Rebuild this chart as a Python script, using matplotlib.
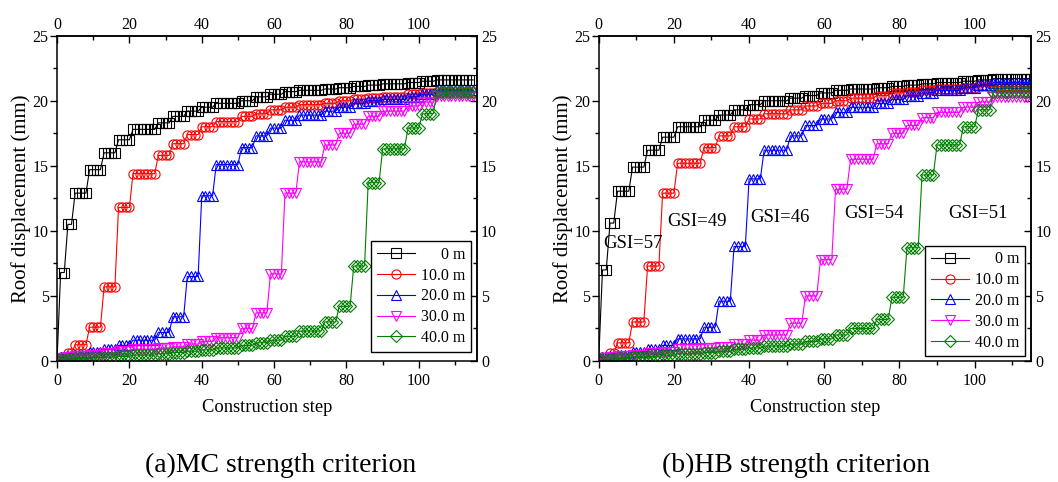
import numpy as np
import matplotlib.pyplot as plt

plt.rcParams["font.family"] = ["Liberation Serif", "DejaVu Serif"]

# construction steps 0..115, grouped into plateaus (one excavation round each)
plateau_len = [1, 2, 2, 4, 4, 4, 4, 7, 4, 4, 4, 4, 7, 4, 4, 4, 4, 7, 4, 4, 4, 4, 7, 4, 4, 11]
steps = np.arange(sum(plateau_len))

labels = ["     0 m", "10.0 m", "20.0 m", "30.0 m", "40.0 m"]
colors = ["black", "#ff0000", "#0000ff", "#ff00ff", "#008000"]
markers = ["s", "o", "^", "v", "D"]

# (a) Mohr-Coulomb, plateau levels (mm)
mc_0 = [0.0, 6.8, 10.5, 12.9, 14.7, 16.0, 17.0, 17.8, 18.3, 18.8, 19.2, 19.5, 19.8,
        20.0, 20.3, 20.5, 20.7, 20.8, 20.9, 21.0, 21.1, 21.2, 21.3, 21.4, 21.5, 21.6]
mc_10 = [0.2, 0.3, 0.6, 1.25, 2.6, 5.7, 11.8, 14.4, 15.8, 16.7, 17.4, 18.0, 18.4,
         18.8, 19.0, 19.3, 19.5, 19.7, 19.8, 20.0, 20.1, 20.2, 20.3, 20.5, 20.6, 20.7]
mc_20 = [0.2, 0.3, 0.4, 0.5, 0.7, 0.9, 1.2, 1.6, 2.2, 3.4, 6.5, 12.7, 15.1,
         16.4, 17.3, 17.9, 18.5, 18.9, 19.2, 19.5, 19.8, 20.0, 20.1, 20.3, 20.5, 20.8]
mc_30 = [0.1, 0.2, 0.3, 0.4, 0.5, 0.6, 0.75, 0.9, 1.0, 1.1, 1.3, 1.5, 1.8,
         2.5, 3.7, 6.7, 12.9, 15.3, 16.6, 17.5, 18.2, 18.8, 19.2, 19.6, 19.9, 20.4]
mc_40 = [0.1, 0.1, 0.15, 0.2, 0.25, 0.3, 0.35, 0.45, 0.55, 0.65, 0.75, 0.85, 1.0,
         1.2, 1.4, 1.6, 1.9, 2.3, 3.0, 4.2, 7.3, 13.7, 16.3, 17.9, 19.0, 20.7]

# (b) Hoek-Brown, plateau levels (mm)
hb_0 = [0.1, 7.0, 10.6, 13.05, 14.9, 16.2, 17.2, 18.0, 18.5, 18.9, 19.3, 19.7, 20.0,
        20.2, 20.4, 20.6, 20.8, 20.9, 21.0, 21.1, 21.2, 21.3, 21.4, 21.5, 21.6, 21.7]
hb_10 = [0.2, 0.3, 0.6, 1.4, 3.0, 7.3, 12.9, 15.2, 16.4, 17.3, 18.0, 18.6, 19.0,
         19.3, 19.6, 19.8, 20.0, 20.2, 20.4, 20.6, 20.7, 20.8, 20.9, 21.0, 21.1, 21.1]
hb_20 = [0.2, 0.3, 0.4, 0.5, 0.7, 0.9, 1.2, 1.7, 2.6, 4.6, 8.8, 14.0, 16.2,
         17.3, 18.1, 18.6, 19.1, 19.5, 19.8, 20.1, 20.4, 20.6, 20.8, 21.0, 21.2, 21.4]
hb_30 = [0.1, 0.2, 0.3, 0.4, 0.5, 0.6, 0.7, 0.9, 1.0, 1.1, 1.3, 1.6, 2.0,
         2.9, 5.0, 7.8, 13.2, 15.5, 16.7, 17.5, 18.1, 18.7, 19.1, 19.5, 19.9, 20.3]
hb_40 = [0.1, 0.1, 0.15, 0.2, 0.3, 0.35, 0.45, 0.55, 0.65, 0.75, 0.9, 1.0, 1.15,
         1.3, 1.5, 1.7, 2.0, 2.5, 3.2, 4.9, 8.7, 14.3, 16.6, 18.0, 19.3, 20.7]

gsi_text = ["GSI=57", "GSI=49", "GSI=46", "GSI=54", "GSI=51"]
gsi_x = [1.2, 18.3, 40.2, 65.3, 92.9]
gsi_y = [9.05, 10.7, 11.0, 11.35, 11.35]

TICK_FS = 11.5


def style_ticks(axis_obj, major, minor, direction, pad):
    axis_obj.set_ticks(major)
    axis_obj.set_ticks(minor, minor=True)
    axis_obj.set_tick_params(which="both", direction=direction, width=1,
                             labelsize=TICK_FS)
    axis_obj.set_tick_params(which="major", length=5, pad=pad)
    axis_obj.set_tick_params(which="minor", length=3)


def draw_panel(ax, series, xmax):
    for vals, lab, c, m in zip(series, labels, colors, markers):
        y = np.repeat(vals, plateau_len)
        ms = 6 if m == "D" else 6.6
        ax.plot(steps, y, color=c, lw=0.8, marker=m, ms=ms, mfc="none",
                mec=c, mew=0.8, label=lab)
    ax.set_xlim(0, xmax)
    ax.set_ylim(0, 25)
    xmaj = np.arange(0, 101, 20)
    xmin = np.arange(10, xmax, 10)
    ymaj = np.arange(0, 26, 5)
    ymin = np.arange(2.5, 25, 5)
    style_ticks(ax.xaxis, xmaj, xmin, "out", 3.5)
    style_ticks(ax.yaxis, ymaj, ymin, "out", 1)

    top = ax.secondary_xaxis("top")
    style_ticks(top.xaxis, xmaj, xmin, "in", 2)
    right = ax.secondary_yaxis("right")
    style_ticks(right.yaxis, ymaj, ymin, "in", 3)
    for s in list(ax.spines.values()) + list(top.spines.values()) + list(right.spines.values()):
        s.set_linewidth(1.1)

    ax.set_xlabel("Construction step", fontsize=13.3, labelpad=7)
    ax.set_ylabel("Roof displacement (mm)", fontsize=15, labelpad=1)


fig = plt.figure(figsize=(10.58, 4.82), dpi=100)
ax1 = fig.add_axes([0.0539, 0.251, 0.3967, 0.675])
ax2 = fig.add_axes([0.5659, 0.251, 0.4086, 0.675])

draw_panel(ax1, [mc_0, mc_10, mc_20, mc_30, mc_40], 116)
draw_panel(ax2, [hb_0, hb_10, hb_20, hb_30, hb_40], 115)

for ax, anchor in [(ax1, (0.986, 0.029)), (ax2, (0.986, 0.015))]:
    leg = ax.legend(loc="lower right", bbox_to_anchor=anchor, fontsize=11.5,
                    fancybox=False, edgecolor="black", framealpha=1,
                    handlelength=2.4, handletextpad=0.35, borderpad=0.35,
                    labelspacing=0.3, borderaxespad=0)
    leg.get_frame().set_linewidth(1)

for t, x, y in zip(gsi_text, gsi_x, gsi_y):
    ax2.text(x, y, t, fontsize=13.5, ha="left", va="center")

fig.text(0.265, 0.035, "(a)MC strength criterion", fontsize=20, ha="center", va="center")
fig.text(0.752, 0.035, "(b)HB strength criterion", fontsize=20, ha="center", va="center")

fig.savefig("out.png", dpi=100)
